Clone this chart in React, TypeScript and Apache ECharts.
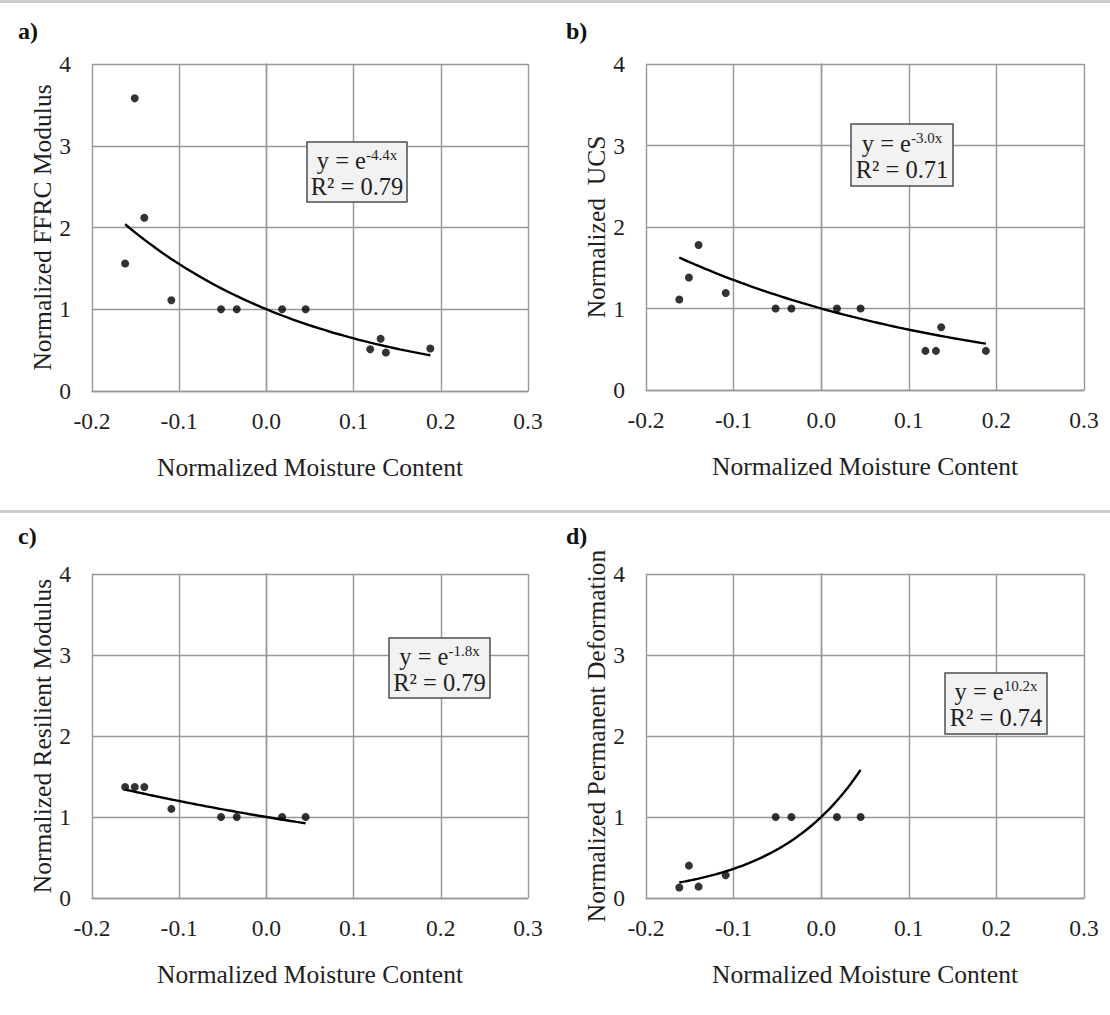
import React, { useEffect, useRef } from "react";
import * as echarts from "echarts";

const FONT = "'Liberation Serif', 'Times New Roman', serif";

// x values (normalized moisture content)
const X_TOP = [-0.162, -0.151, -0.14, -0.109, -0.052, -0.034, 0.018, 0.045, 0.119, 0.131, 0.137, 0.188];
const X_BOTTOM = [-0.162, -0.151, -0.14, -0.109, -0.052, -0.034, 0.018, 0.045];

// y values per panel
const FFRC = [1.56, 3.58, 2.12, 1.11, 1.0, 1.0, 1.0, 1.0, 0.51, 0.64, 0.47, 0.52];
const UCS = [1.11, 1.38, 1.78, 1.19, 1.0, 1.0, 1.0, 1.0, 0.48, 0.48, 0.77, 0.48];
const RESILIENT = [1.37, 1.37, 1.37, 1.1, 1.0, 1.0, 1.0, 1.0];
const PERMANENT = [0.13, 0.4, 0.14, 0.28, 1.0, 1.0, 1.0, 1.0];

// fitted trendlines y = e^(k x), as printed in the chart
const TREND_K = [-4.4, -3.0, -1.8, 10.2];
const TREND_K_LABEL = ["-4.4x", "-3.0x", "-1.8x", "10.2x"];
const R2_LABEL = ["0.79", "0.71", "0.79", "0.74"];

const PANEL_LETTERS = ["a)", "b)", "c)", "d)"];
const Y_TITLES = [
  "Normalized FFRC Modulus",
  "Normalized  UCS",
  "Normalized Resilient Modulus",
  "Normalized Permanent Deformation",
];
const X_TITLE = "Normalized Moisture Content";
const X_TICKS_MIN = -0.2;
const X_TICKS_MAX = 0.3;
const Y_MIN = 0;
const Y_MAX = 4;

const GRIDS = [
  { left: 92, top: 64, width: 436, height: 327 },
  { left: 646, top: 64, width: 438, height: 326 },
  { left: 92, top: 574, width: 436, height: 324 },
  { left: 646, top: 574, width: 438, height: 324 },
];

const BOXES = [
  { x: 307, y: 142, w: 100, h: 60 },
  { x: 851, y: 124, w: 102, h: 62 },
  { x: 389, y: 638, w: 101, h: 60 },
  { x: 945, y: 673, w: 102, h: 61 },
];

function trendData(xs: number[], k: number): number[][] {
  const x0 = Math.min(...xs);
  const x1 = Math.max(...xs);
  const out: number[][] = [];
  const n = 60;
  for (let i = 0; i <= n; i++) {
    const x = x0 + ((x1 - x0) * i) / n;
    out.push([x, Math.exp(k * x)]);
  }
  return out;
}

export default function App() {
  const ref = useRef<HTMLDivElement>(null);

  useEffect(() => {
    if (!ref.current) return;
    const chart = echarts.init(ref.current, null, { renderer: "svg" });

    const xsPer = [X_TOP, X_TOP, X_BOTTOM, X_BOTTOM];
    const ysPer = [FFRC, UCS, RESILIENT, PERMANENT];

    const gridColor = "#989898";
    const textColor = "#1f1f1f";

    const xAxes = GRIDS.map((_, i) => ({
      type: "value",
      gridIndex: i,
      min: X_TICKS_MIN,
      max: X_TICKS_MAX,
      interval: 0.1,
      name: X_TITLE,
      nameLocation: "middle",
      nameGap: 63,
      nameTextStyle: { fontFamily: FONT, fontSize: 25.5, color: textColor },
      axisLine: { show: true, lineStyle: { color: gridColor, width: 1.4 } },
      axisTick: { show: false },
      axisLabel: {
        fontFamily: FONT,
        fontSize: 23.5,
        color: textColor,
        margin: 18,
        formatter: (v: number) => v.toFixed(1),
      },
      splitLine: { show: true, lineStyle: { color: gridColor, width: 1.4 } },
    }));

    const yAxes = GRIDS.map((_, i) => ({
      type: "value",
      gridIndex: i,
      min: Y_MIN,
      max: Y_MAX,
      interval: 1,
      name: Y_TITLES[i],
      nameLocation: "middle",
      nameGap: 37,
      nameTextStyle: { fontFamily: FONT, fontSize: 25.5, color: textColor },
      axisLine: { show: true, lineStyle: { color: gridColor, width: 1.4 } },
      axisTick: { show: false },
      axisLabel: { fontFamily: FONT, fontSize: 23.5, color: textColor, margin: 21 },
      splitLine: { show: true, lineStyle: { color: gridColor, width: 1.4 } },
    }));

    const series: any[] = [];
    GRIDS.forEach((_, i) => {
      series.push({
        type: "line",
        xAxisIndex: i,
        yAxisIndex: i,
        data: trendData(xsPer[i], TREND_K[i]),
        showSymbol: false,
        symbol: "none",
        lineStyle: { color: "#000", width: 2.4 },
        z: 3,
      });
      series.push({
        type: "scatter",
        xAxisIndex: i,
        yAxisIndex: i,
        data: xsPer[i].map((x, j) => [x, ysPer[i][j]]),
        symbol: "circle",
        symbolSize: 8,
        itemStyle: { color: "#000" },
        z: 4,
      });
    });

    const graphics: any[] = [
      { type: "rect", shape: { x: 0, y: 0, width: 1110, height: 3 }, style: { fill: "#cdcdcd" }, silent: true },
      { type: "rect", shape: { x: 0, y: 510, width: 1110, height: 3 }, style: { fill: "#cdcdcd" }, silent: true },
    ];
    BOXES.forEach((b, i) => {
      graphics.push({
        type: "rect",
        shape: { x: b.x, y: b.y, width: b.w, height: b.h },
        style: { fill: "#f2f2f2", stroke: "#4d4d4d", lineWidth: 1.5 },
        z: 10,
      });
      graphics.push({
        type: "text",
        x: b.x + b.w / 2,
        y: b.y + b.h / 2 + 1,
        z: 11,
        style: {
          text: `{m|y = e}{s|${TREND_K_LABEL[i]}}\n{m|R² = ${R2_LABEL[i]}}`,
          align: "center",
          verticalAlign: "middle",
          fill: textColor,
          rich: {
            m: { fontFamily: FONT, fontSize: 24.5, lineHeight: 26, fill: textColor },
            s: { fontFamily: FONT, fontSize: 15, lineHeight: 26, verticalAlign: "top", fill: textColor },
          },
        },
      });
    });

    const titles = PANEL_LETTERS.map((t, i) => ({
      text: t,
      left: i % 2 === 0 ? 18 : 566,
      top: i < 2 ? 19 : 524,
      textStyle: { fontFamily: FONT, fontSize: 24, fontWeight: "bold", color: "#111" },
      padding: 0,
    }));

    chart.setOption({
      animation: false,
      backgroundColor: "#ffffff",
      title: titles,
      grid: GRIDS.map((g) => ({ ...g, containLabel: false })),
      xAxis: xAxes,
      yAxis: yAxes,
      series,
      graphic: graphics,
    });

    return () => chart.dispose();
  }, []);

  return (
    <div
      ref={ref}
      style={{ position: "fixed", left: 0, top: 0, width: 1110, height: 1015, background: "#fff" }}
    />
  );
}
